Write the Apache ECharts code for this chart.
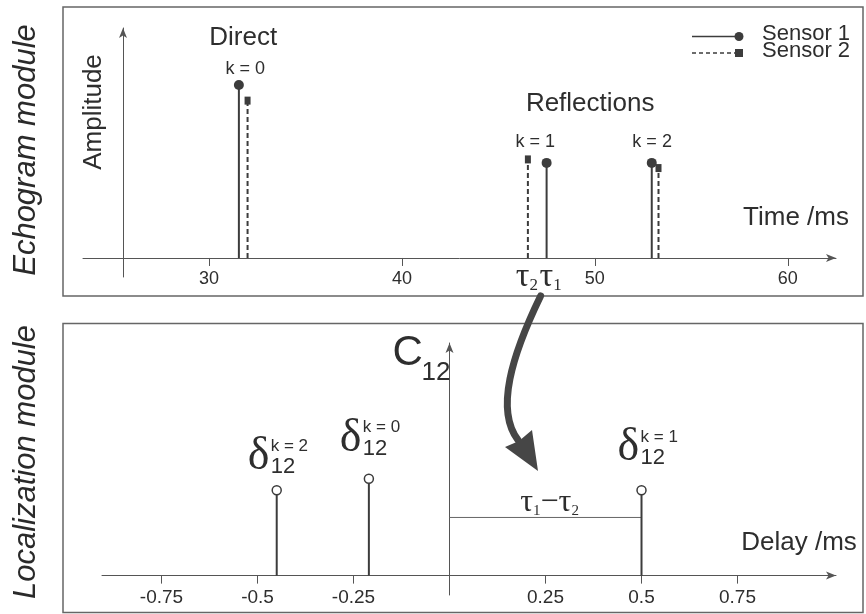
<!DOCTYPE html>
<html>
<head>
<meta charset="utf-8">
<script src="https://cdn.jsdelivr.net/npm/echarts@6/dist/echarts.min.js"></script>
<style>
html,body{margin:0;padding:0;background:#fff;}
#c{width:866px;height:614px;}
</style>
</head>
<body>
<div id="c"></div>
<script>
// ---- data ----
const echoTicks = [30, 40, 50, 60];
const echoK = [0, 1, 2];
const sensor1Times = [31.55, 47.5, 52.95];
const sensor1Amps = [1.0, 0.55, 0.55];
const sensor2Times = [32.0, 46.53, 53.3];
const sensor2Amps = [0.91, 0.57, 0.52];

const delayTicks = [-0.75, -0.5, -0.25, 0.25, 0.5, 0.75];
const delayK = [2, 0, 1];
const delays = [-0.45, -0.21, 0.5];
const corrValues = [0.88, 1.0, 0.88];
const tauDiffLevel = 0.6;

// ---- styles ----
const SANS = 'Liberation Sans, Arial, Helvetica, sans-serif';
const SERIF = 'Liberation Serif, Times New Roman, serif';
const INK = '#2e2e2e';
const STEM = '#3c3c3c';
const AXIS = '#555';

const chart = echarts.init(document.getElementById('c'), null, {renderer: 'canvas'});

function stemRenderer(kind) {
  return function (params, api) {
    const x = api.value(0), y = api.value(1);
    const p0 = api.coord([x, 0]);
    const p1 = api.coord([x, y]);
    const topY = kind === 'open' ? p1[1] + 4.5 : p1[1];
    const children = [{
      type: 'line',
      shape: {x1: p0[0], y1: p0[1], x2: p1[0], y2: topY},
      style: {stroke: STEM, lineWidth: 2, lineDash: kind === 'dash' ? [5, 3] : null}
    }];
    if (kind === 'solid') {
      children.push({type: 'circle', shape: {cx: p1[0], cy: p1[1], r: 5}, style: {fill: STEM}});
    } else if (kind === 'dash') {
      children.push({type: 'rect', shape: {x: p1[0] - 3, y: p1[1] - 4, width: 6, height: 8}, style: {fill: STEM}});
    } else {
      children.push({type: 'circle', shape: {cx: p1[0], cy: p1[1], r: 4.5}, style: {fill: '#fff', stroke: STEM, lineWidth: 1.5}});
    }
    return {type: 'group', children: children};
  };
}

const zip = (a, b) => a.map((v, i) => [v, b[i]]);

const axisLineStyle = {color: AXIS, width: 1};

const option = {
  backgroundColor: '#fff',
  animation: false,
  grid: [
    {left: 83, right: 30, top: 28, bottom: 337, containLabel: false, outerBoundsMode: 'none'},
    {left: 102, right: 30, top: 343, bottom: 19, containLabel: false, outerBoundsMode: 'none'}
  ],
  xAxis: [
    {
      gridIndex: 0, type: 'value', min: 23.47, max: 62.5,
      axisLine: {show: true, onZero: true, symbol: ['none', 'arrow'], symbolSize: [6, 10], lineStyle: axisLineStyle},
      axisTick: {show: true, customValues: echoTicks, length: 8, lineStyle: {color: AXIS}},
      axisLabel: {show: true, customValues: echoTicks, fontSize: 18, color: INK, fontFamily: SANS, margin: -7},
      splitLine: {show: false}
    },
    {
      gridIndex: 1, type: 'value', min: -0.905, max: 1.0065,
      axisLine: {show: true, onZero: true, symbol: ['none', 'arrow'], symbolSize: [6, 10], lineStyle: axisLineStyle},
      axisTick: {show: true, customValues: delayTicks, length: 8, lineStyle: {color: AXIS}},
      axisLabel: {show: true, customValues: delayTicks, fontSize: 19, color: INK, fontFamily: SANS, margin: -7,
        formatter: v => String(v)},
      splitLine: {show: false}
    }
  ],
  yAxis: [
    {
      gridIndex: 0, type: 'value', min: -0.11, max: 1.33, offset: -40,
      axisLine: {show: true, onZero: false, symbol: ['none', 'arrow'], symbolSize: [6, 10], lineStyle: axisLineStyle},
      axisTick: {show: false}, axisLabel: {show: false}, splitLine: {show: false}
    },
    {
      gridIndex: 1, type: 'value', min: -0.2, max: 2.4,
      axisLine: {show: true, onZero: true, symbol: ['none', 'arrow'], symbolSize: [6, 10], lineStyle: axisLineStyle},
      axisTick: {show: false}, axisLabel: {show: false}, splitLine: {show: false}
    }
  ],
  series: [
    {
      name: 'Sensor 1', type: 'custom', coordinateSystem: 'cartesian2d', xAxisIndex: 0, yAxisIndex: 0,
      renderItem: stemRenderer('solid'), data: zip(sensor1Times, sensor1Amps), encode: {x: 0, y: 1}, z: 5
    },
    {
      name: 'Sensor 2', type: 'custom', coordinateSystem: 'cartesian2d', xAxisIndex: 0, yAxisIndex: 0,
      renderItem: stemRenderer('dash'), data: zip(sensor2Times, sensor2Amps), encode: {x: 0, y: 1}, z: 5
    },
    {
      name: 'C12', type: 'custom', coordinateSystem: 'cartesian2d', xAxisIndex: 1, yAxisIndex: 1,
      renderItem: stemRenderer('open'), data: zip(delays, corrValues), encode: {x: 0, y: 1}, z: 5
    },
    {
      name: 'tau diff', type: 'line', xAxisIndex: 1, yAxisIndex: 1, silent: true,
      showSymbol: false, symbol: 'none',
      lineStyle: {color: '#666', width: 1},
      data: [[0, tauDiffLevel], [delays[delayK.indexOf(1)], tauDiffLevel]], z: 3
    }
  ]
};
chart.setOption(option);

// ---- annotations placed from the chart's own scales ----
const P = (g, x, y) => chart.convertToPixel({gridIndex: g}, [x, y]);
function txt(x, y, text, size, extra) {
  extra = extra || {};
  const style = Object.assign({text: text, fontSize: size, fontFamily: SANS, fill: INK,
    align: 'center', verticalAlign: 'middle', textAlign: 'center', textVerticalAlign: 'middle'}, extra.style || {});
  const el = {type: 'text', x: x, y: y, silent: true, z: 20, style: style};
  if (extra.rotation != null) el.rotation = extra.rotation;
  return el;
}
const L = {align: 'left', textAlign: 'left'};

const g = [];
// panel boxes
g.push({type: 'rect', shape: {x: 63, y: 7, width: 800, height: 289}, style: {fill: 'none', stroke: '#666', lineWidth: 1.5}, z: 1});
g.push({type: 'rect', shape: {x: 63, y: 323.5, width: 800, height: 289}, style: {fill: 'none', stroke: '#666', lineWidth: 1.5}, z: 1});

// module labels
g.push(txt(26, 150, 'Echogram module', 31, {rotation: Math.PI / 2, style: {fontStyle: 'italic', fill: '#2a2a2a'}}));
g.push(txt(26, 462, 'Localization module', 31, {rotation: Math.PI / 2, style: {fontStyle: 'italic', fill: '#2a2a2a'}}));

// echogram labels
g.push(txt(94, 112, 'Amplitude', 26, {rotation: Math.PI / 2}));
g.push(txt(796, 218, 'Time /ms', 26));
const kTop = echoK.map(i => {
  const a = P(0, sensor1Times[i], Math.max(sensor1Amps[i], sensor2Amps[i]));
  const b = P(0, sensor2Times[i], 0);
  return [(a[0] + b[0]) / 2, a[1]];
});
g.push(txt(kTop[0][0], kTop[0][1] - 47, 'Direct', 26));
g.push(txt(kTop[0][0] + 2, kTop[0][1] - 16, 'k = 0', 18));
g.push(txt((kTop[1][0] + kTop[2][0]) / 2 - 6, kTop[1][1] - 56, 'Reflections', 26));
g.push(txt(kTop[1][0] - 2, kTop[1][1] - 17, 'k = 1', 18));
g.push(txt(kTop[2][0] - 3, kTop[1][1] - 17, 'k = 2', 18));

// tau labels under the time axis
const tauRich = {t: {fontSize: 34, fontFamily: SERIF, fill: INK}, s: {fontSize: 17, fontFamily: SERIF, fill: INK, verticalAlign: 'bottom'}};
const t2 = P(0, sensor2Times[1], 0), t1 = P(0, sensor1Times[1], 0);
g.push(txt(t2[0] - 1, t2[1] + 19, '{t|τ}{s|2}', 34, {style: {rich: tauRich}}));
g.push(txt(t1[0] + 4, t1[1] + 19, '{t|τ}{s|1}', 34, {style: {rich: tauRich}}));

// legend
g.push({type: 'line', shape: {x1: 692, y1: 36.5, x2: 739, y2: 36.5}, style: {stroke: STEM, lineWidth: 1.5}});
g.push({type: 'circle', shape: {cx: 739, cy: 36.5, r: 4.5}, style: {fill: STEM}});
g.push({type: 'line', shape: {x1: 692, y1: 53, x2: 736, y2: 53}, style: {stroke: STEM, lineWidth: 1.5, lineDash: [4, 3]}});
g.push({type: 'rect', shape: {x: 735, y: 49, width: 8, height: 8}, style: {fill: STEM}});
g.push(txt(762, 34, 'Sensor 1', 22, {style: L}));
g.push(txt(762, 50.5, 'Sensor 2', 22, {style: L}));

// localization labels
const o = P(1, 0, 0);
g.push(txt(o[0] - 57, 353, 'C', 42, {style: L}));
g.push(txt(o[0] - 28, 372.5, '12', 26, {style: L}));
g.push(txt(799, 543, 'Delay /ms', 26));
const dOff = {2: [-29, -33], 0: [-29, -40], 1: [-24, -42]};
delays.forEach((d, i) => {
  const p = P(1, d, corrValues[i]);
  const k = delayK[i];
  const off = dOff[k];
  const lx = p[0] + off[0], cy = p[1] + off[1];
  g.push(txt(lx, cy, 'δ', 46, {style: {align: 'left', textAlign: 'left', fontFamily: SERIF}}));
  g.push(txt(lx + 23, cy - 11, 'k = ' + k, 17, {style: L}));
  g.push(txt(lx + 23, cy + 10, '12', 22, {style: L}));
});
// tau1 - tau2 label
const m = P(1, delays[delayK.indexOf(1)] / 2, tauDiffLevel);
const diffRich = {t: {fontSize: 32, fontFamily: SERIF, fill: INK}, s: {fontSize: 15, fontFamily: SERIF, fill: INK, verticalAlign: 'bottom'}, m: {fontSize: 32, fontFamily: SERIF, fill: INK}};
g.push(txt(m[0] + 4, m[1] - 15, '{t|τ}{s|1}{m|−}{t|τ}{s|2}', 32, {style: {rich: diffRich}}));

// big curved arrow from tau1 to the delay plot
const a0 = [t1[0] - 6, 296];
g.push({
  type: 'bezierCurve', z: 50,
  shape: {x1: a0[0], y1: a0[1], cpx1: 512, cpy1: 355, cpx2: 495, cpy2: 410, x2: 518, y2: 440},
  style: {stroke: '#464646', lineWidth: 7, fill: 'none', lineCap: 'round'}
});
g.push({type: 'polygon', z: 50, shape: {points: [[505, 447], [519, 441], [532, 430], [538, 471]]}, style: {fill: '#464646'}});

chart.setOption({graphic: {elements: g}});
</script>
</body>
</html>
